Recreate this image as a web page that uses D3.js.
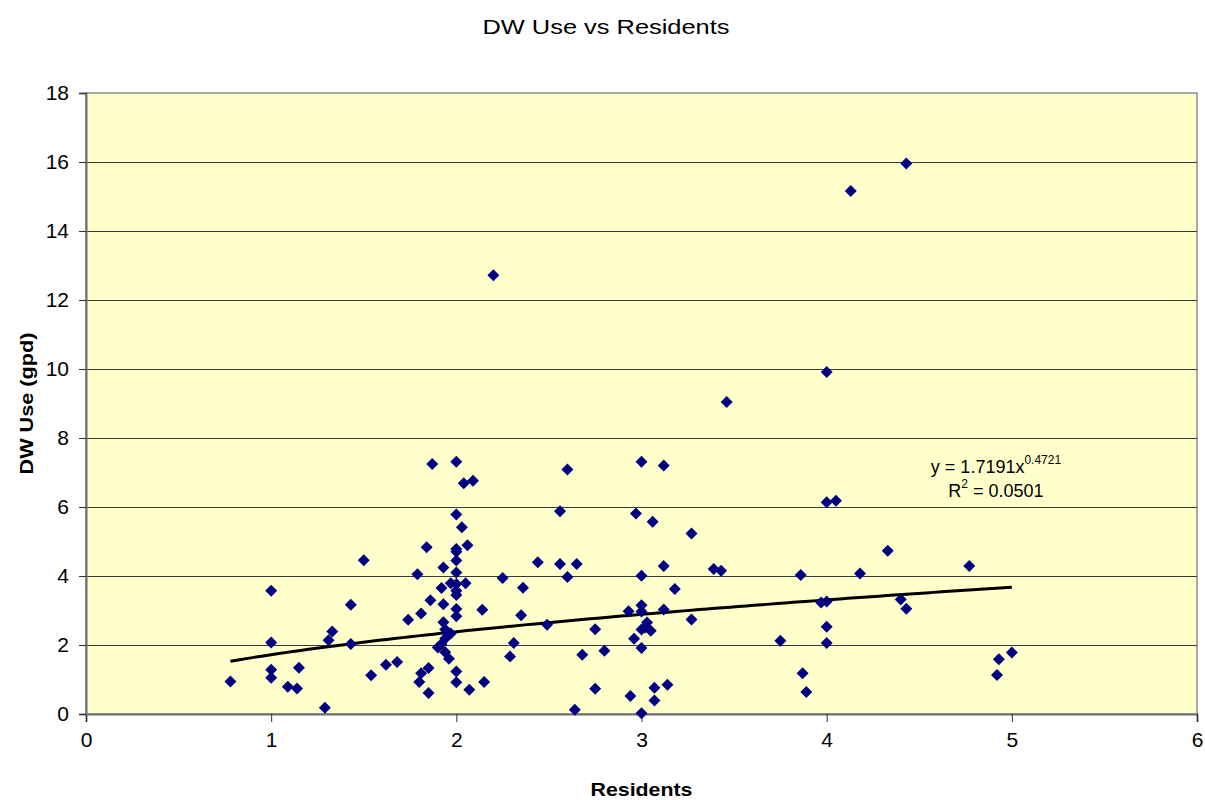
<!DOCTYPE html>
<html>
<head>
<meta charset="utf-8">
<script src="https://cdn.jsdelivr.net/npm/d3@7/dist/d3.min.js"></script>
<style>
  html, body { margin: 0; padding: 0; background: #ffffff; }
  svg { display: block; font-family: "Liberation Sans", Arial, sans-serif; }
</style>
</head>
<body>
<svg id="chart" width="1205" height="800"></svg>
<script>
// Residents per household and daily dishwasher water use (gallons per day)
const residents = [
  0.78, 1.00, 1.00, 1.00, 1.00, 1.09, 1.14, 1.15, 1.29, 1.31,
  1.33, 1.43, 1.43, 1.50, 1.54, 1.62, 1.68, 1.74, 1.79, 1.80,
  1.81, 1.81, 1.84, 1.85, 1.85, 1.86, 1.87, 1.90, 1.92, 1.92,
  1.93, 1.93, 1.93, 1.94, 1.94, 1.94, 1.96, 1.97, 1.97, 2.00,
  2.00, 2.00, 2.00, 2.00, 2.00, 2.00, 2.00, 2.00, 2.00, 2.00,
  2.00, 2.00, 2.03, 2.04, 2.05, 2.06, 2.07, 2.09, 2.14, 2.15,
  2.20, 2.25, 2.29, 2.31, 2.35, 2.36, 2.44, 2.49, 2.56, 2.56,
  2.60, 2.60, 2.64, 2.65, 2.68, 2.75, 2.75, 2.80, 2.93, 2.94,
  2.96, 2.97, 3.00, 3.00, 3.00, 3.00, 3.00, 3.00, 3.00, 3.02,
  3.03, 3.05, 3.06, 3.07, 3.07, 3.12, 3.12, 3.12, 3.14, 3.18,
  3.27, 3.27, 3.39, 3.43, 3.46, 3.75, 3.86, 3.87, 3.89, 3.97,
  4.00, 4.00, 4.00, 4.00, 4.00, 4.05, 4.13, 4.18, 4.33, 4.40,
  4.43, 4.43, 4.77, 4.92, 4.93, 5.00
];
const dwUse = [
  0.94, 3.57, 2.07, 1.28, 1.05, 0.79, 0.74, 1.34, 0.18, 2.14,
  2.39, 3.17, 2.03, 4.46, 1.12, 1.43, 1.51, 2.73, 4.05, 0.93,
  1.18, 2.91, 4.83, 1.33, 0.61, 3.30, 7.25, 1.93, 2.03, 3.65,
  4.25, 3.18, 2.66, 2.45, 2.19, 1.79, 1.60, 2.33, 3.79, 7.31,
  5.78, 4.78, 4.70, 4.45, 4.10, 3.77, 3.57, 3.45, 3.04, 2.83,
  1.23, 0.92, 5.41, 6.69, 3.79, 4.89, 0.70, 6.76, 3.02, 0.93,
  12.72, 3.94, 1.67, 2.06, 2.86, 3.66, 4.40, 2.59, 5.88, 4.35,
  7.09, 3.97, 0.12, 4.35, 1.72, 2.46, 0.73, 1.83, 2.98, 0.52,
  2.18, 5.81, 7.31, 4.01, 3.15, 2.97, 2.45, 1.91, 0.02, 2.51,
  2.65, 2.41, 5.57, 0.76, 0.39, 7.20, 3.03, 4.29, 0.85, 3.62,
  5.23, 2.74, 4.20, 4.15, 9.04, 2.12, 4.03, 1.18, 0.64, 3.23,
  9.91, 6.14, 3.26, 2.53, 2.06, 6.18, 15.16, 4.07, 4.73, 3.32,
  3.05, 15.96, 4.29, 1.13, 1.59, 1.78
];

// Power trend line y = a * x^b
const trendA = 1.7191;
const trendB = 0.4721;
const trendR2 = 0.0501;

const xTicks = [0, 1, 2, 3, 4, 5, 6];
const yTicks = [0, 2, 4, 6, 8, 10, 12, 14, 16, 18];

const chartTitle = "DW Use vs Residents";
const xTitle = "Residents";
const yTitle = "DW Use (gpd)";

const W = 1205, H = 800;
const margin = { top: 93, right: 8, bottom: 86, left: 86 };
const plotW = W - margin.left - margin.right;
const plotH = H - margin.top - margin.bottom;

const svg = d3.select("#chart");

const x = d3.scaleLinear().domain([0, 6]).range([0, plotW]);
const y = d3.scaleLinear().domain([0, 18]).range([plotH, 0]);

const g = svg.append("g").attr("transform", `translate(${margin.left},${margin.top})`);

// plot background
g.append("rect")
  .attr("x", 0).attr("y", 0)
  .attr("width", plotW).attr("height", plotH)
  .attr("fill", "#ffffcc")
  .attr("stroke", "#8c8c8c")
  .attr("stroke-width", 1.5);

// horizontal gridlines
g.append("g")
  .selectAll("line")
  .data(yTicks.filter(d => d > 0 && d < 18))
  .join("line")
  .attr("x1", 0).attr("x2", plotW)
  .attr("y1", d => Math.round(y(d)) + 0.5)
  .attr("y2", d => Math.round(y(d)) + 0.5)
  .attr("stroke", "#3a3a3a")
  .attr("stroke-width", 1);

// axes
const xAxis = d3.axisBottom(x).tickValues(xTicks).tickSize(8).tickPadding(10).tickFormat(d3.format("d"));
const yAxis = d3.axisLeft(y).tickValues(yTicks).tickSize(7).tickPadding(10).tickFormat(d3.format("d"));

const gx = g.append("g").attr("transform", `translate(0,${plotH})`).call(xAxis);
const gy = g.append("g").call(yAxis);

[gx, gy].forEach(ax => {
  ax.select(".domain").attr("stroke", "#6e6e6e").attr("stroke-width", 2);
  ax.selectAll(".tick line").attr("stroke", "#333").attr("stroke-width", 1);
  ax.selectAll(".tick text")
    .attr("fill", "#000")
    .style("font-size", "21px")
    .style("font-family", "'Liberation Sans', Arial, sans-serif");
});

// trend line over the data's x range
const xMin = d3.min(residents), xMax = d3.max(residents);
const trendPts = d3.range(0, 101).map(i => {
  const xv = xMin + (xMax - xMin) * i / 100;
  return [xv, trendA * Math.pow(xv, trendB)];
});
g.append("path")
  .datum(trendPts)
  .attr("fill", "none")
  .attr("stroke", "#000")
  .attr("stroke-width", 3)
  .attr("d", d3.line().x(d => x(d[0])).y(d => y(d[1])));

// data markers (diamonds)
const pts = residents.map((r, i) => ({ r, u: dwUse[i] }));
g.append("g")
  .selectAll("path")
  .data(pts)
  .join("path")
  .attr("transform", d => `translate(${x(d.r)},${y(d.u)})`)
  .attr("d", "M0,-6L6,0L0,6L-6,0Z")
  .attr("fill", "#000080");

// trend equation label
const labelX = 996 - margin.left;
const eq = g.append("text")
  .attr("x", labelX).attr("y", 473 - margin.top)
  .attr("text-anchor", "middle")
  .style("font-size", "18px")
  .attr("fill", "#000");
eq.append("tspan").text(`y = ${trendA}x`);
eq.append("tspan").attr("dy", -9).style("font-size", "12px").text(trendB);

const r2 = g.append("text")
  .attr("x", labelX).attr("y", 497 - margin.top)
  .attr("text-anchor", "middle")
  .style("font-size", "18px")
  .attr("fill", "#000");
r2.append("tspan").text("R");
r2.append("tspan").attr("dy", -9).style("font-size", "12px").text("2");
r2.append("tspan").attr("dy", 9).text(` = ${trendR2}`);

// titles
svg.append("text")
  .attr("x", 606).attr("y", 34)
  .attr("text-anchor", "middle")
  .style("font-size", "21px")
  .attr("textLength", 247)
  .attr("lengthAdjust", "spacingAndGlyphs")
  .attr("fill", "#000")
  .text(chartTitle);

svg.append("text")
  .attr("x", margin.left + plotW / 2).attr("y", 796)
  .attr("text-anchor", "middle")
  .style("font-size", "19px")
  .style("font-weight", "bold")
  .attr("textLength", 102)
  .attr("lengthAdjust", "spacingAndGlyphs")
  .attr("fill", "#000")
  .text(xTitle);

svg.append("text")
  .attr("transform", `translate(33,${margin.top + plotH / 2}) rotate(-90)`)
  .attr("text-anchor", "middle")
  .style("font-size", "19px")
  .style("font-weight", "bold")
  .attr("textLength", 142)
  .attr("lengthAdjust", "spacingAndGlyphs")
  .attr("fill", "#000")
  .text(yTitle);
</script>
</body>
</html>
